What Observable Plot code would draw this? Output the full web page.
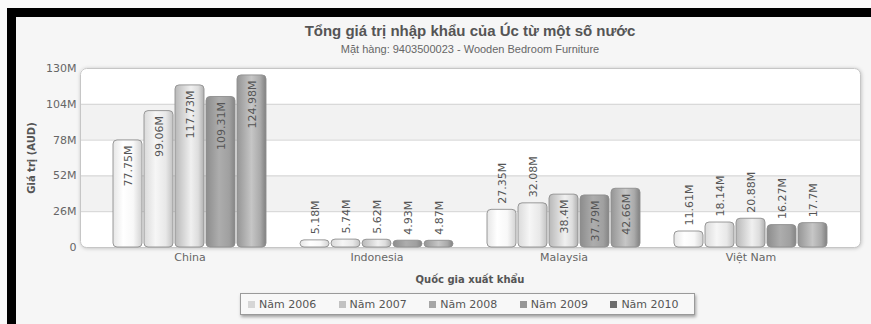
<!DOCTYPE html>
<html>
<head>
<meta charset="utf-8">
<script src="https://cdn.jsdelivr.net/npm/d3@7"></script>
<script src="https://cdn.jsdelivr.net/npm/@observablehq/plot@0.6"></script>
<style>
  html, body { margin: 0; padding: 0; background: #fbfbfb; overflow: hidden; }
  #chart { position: relative; width: 871px; height: 324px; background: #f6f6f6; font-family: "DejaVu Sans", Verdana, sans-serif; color: #555; }
  .layer { position: absolute; left: 0; top: 0; }
  .abs { position: absolute; }
  #topStrip { left: 0; top: 0; width: 871px; height: 8px; background: #fafafa; }
  #leftStrip { left: 0; top: 0; width: 7px; height: 324px; background: #fafafa; }
  #topBar { left: 7px; top: 8px; right: 0; height: 9px; background: #000; }
  #leftBar { left: 7px; top: 8px; width: 9px; bottom: 0; background: #000; }
  #title { left: 80px; width: 780px; top: 22px; text-align: center; font: bold 15px "Liberation Sans", Arial, sans-serif; color: #555; line-height: 18px; }
  #subtitle { left: 80px; width: 780px; top: 42px; text-align: center; font: 11px "Liberation Sans", Arial, sans-serif; color: #666; line-height: 14px; }
  #shadow { left: 80px; top: 68px; width: 780px; height: 179px; border-radius: 6px; box-shadow: 1px 1px 4px rgba(0,0,0,0.28); background: #fff; }
  #xtitle { left: 80px; width: 780px; top: 274px; text-align: center; font: bold 10px "DejaVu Sans", Verdana, sans-serif; color: #555; line-height: 12px; }
  #ytitle { left: 31px; top: 158px; transform: translate(-50%, -50%) rotate(-90deg); white-space: nowrap; font: bold 10px "DejaVu Sans", Verdana, sans-serif; color: #555; }
  #legend { left: 240px; top: 293px; width: 453px; height: 20px; border: 1px solid #9a9a9a; background: #f8f8f8; box-shadow: 1px 2px 3px rgba(0,0,0,0.35); display: flex; align-items: center; }
  .item { width: 94px; padding-left: 7px; box-sizing: border-box; display: flex; align-items: center; font-size: 11px; color: #555; white-space: nowrap; }
  .sw { width: 7px; height: 7px; margin-right: 4px; }
</style>
</head>
<body>
<svg width="0" height="0" style="position:absolute">
  <defs>
    <linearGradient id="g0" x1="0" x2="1" y1="0" y2="0">
      <stop offset="0" stop-color="#e6e6e6"/><stop offset="0.35" stop-color="#ffffff"/><stop offset="0.7" stop-color="#f8f8f8"/><stop offset="1" stop-color="#d2d2d2"/>
    </linearGradient>
    <linearGradient id="g1" x1="0" x2="1" y1="0" y2="0">
      <stop offset="0" stop-color="#dadada"/><stop offset="0.4" stop-color="#f6f6f6"/><stop offset="0.75" stop-color="#e8e8e8"/><stop offset="1" stop-color="#c2c2c2"/>
    </linearGradient>
    <linearGradient id="g2" x1="0" x2="1" y1="0" y2="0">
      <stop offset="0" stop-color="#b8b8b8"/><stop offset="0.55" stop-color="#f0f0f0"/><stop offset="0.8" stop-color="#dddddd"/><stop offset="1" stop-color="#b0b0b0"/>
    </linearGradient>
    <linearGradient id="g3" x1="0" x2="1" y1="0" y2="0">
      <stop offset="0" stop-color="#8c8c8c"/><stop offset="0.45" stop-color="#adadad"/><stop offset="0.8" stop-color="#a0a0a0"/><stop offset="1" stop-color="#858585"/>
    </linearGradient>
    <linearGradient id="g4" x1="0" x2="1" y1="0" y2="0">
      <stop offset="0" stop-color="#959595"/><stop offset="0.5" stop-color="#c6c6c6"/><stop offset="0.8" stop-color="#aaaaaa"/><stop offset="1" stop-color="#808080"/>
    </linearGradient>
  </defs>
</svg>
<div id="chart">
  <div class="abs" id="topStrip"></div>
  <div class="abs" id="leftStrip"></div>
  <div class="abs" id="topBar"></div>
  <div class="abs" id="leftBar"></div>
  <div class="abs" id="title">Tổng giá trị nhập khẩu của Úc từ một số nước</div>
  <div class="abs" id="subtitle">Mặt hàng: 9403500023 - Wooden Bedroom Furniture</div>
  <div class="abs" id="shadow"></div>
  <div class="layer" id="bgLayer"></div>
  <div class="layer" id="fgLayer"></div>
  <div class="abs" id="ytitle">Giá trị (AUD)</div>
  <div class="abs" id="xtitle">Quốc gia xuất khẩu</div>
  <div class="abs" id="legend"></div>
</div>
<script>
// ---- data (values in millions AUD) ----
const countries = ["China", "Indonesia", "Malaysia", "Việt Nam"];
const years = ["Năm 2006", "Năm 2007", "Năm 2008", "Năm 2009", "Năm 2010"];
const v2006 = [77.75, 5.18, 27.35, 11.61];
const v2007 = [99.06, 5.74, 32.08, 18.14];
const v2008 = [117.73, 5.62, 38.4, 20.88];
const v2009 = [109.31, 4.93, 37.79, 16.27];
const v2010 = [124.98, 4.87, 42.66, 17.7];
const yTicks = [0, 26, 52, 78, 104, 130];
const swatchColors = ["#d6d6d6", "#c2c2c2", "#a6a6a6", "#979797", "#6e6e6e"];

const series = [v2006, v2007, v2008, v2009, v2010];
const rows = [];
countries.forEach((c, ci) => {
  series.forEach((s, yi) => {
    rows.push({country: c, year: years[yi], yi, value: s[ci], label: s[ci] + "M"});
  });
});
// alternating shaded bands between ticks
const bandRows = [];
for (let i = 1; i < yTicks.length - 1; i += 2) bandRows.push({y1: yTicks[i], y2: yTicks[i + 1]});

const W = 871, H = 324;
const common = {
  width: W, height: H,
  marginTop: 68, marginBottom: 77, marginLeft: 80, marginRight: 11,
  style: {background: "transparent", fontFamily: "'DejaVu Sans', Verdana, sans-serif", fontSize: "11px", color: "#666", overflow: "visible"}
};

const bg = Plot.plot({
  ...common,
  y: {domain: [0, 130], ticks: yTicks, tickFormat: d => d === 0 ? "0" : d + "M", tickSize: 0, tickPadding: 4, label: null},
  marks: [
    Plot.frame({fill: "#ffffff", rx: 6}),
    Plot.rect(bandRows, {y1: "y1", y2: "y2", fill: "#f2f2f2"}),
    Plot.ruleY(yTicks.slice(1, -1), {stroke: "#d2d2d2"}),
    Plot.frame({stroke: "#c6c6c6", rx: 6})
  ]
});
document.getElementById("bgLayer").appendChild(bg);

const inside = d => d.value > 35;
const fg = Plot.plot({
  ...common,
  facet: {data: rows, x: "country"},
  fx: {domain: countries, paddingInner: 0.171, paddingOuter: 0.171, axis: "bottom", tickSize: 0, tickPadding: 6, label: null},
  x: {domain: years, paddingInner: 0.08, paddingOuter: 0, axis: null},
  y: {domain: [0, 130], axis: null},
  color: {type: "identity"},
  marks: [
    Plot.barY(rows, {x: "year", y: "value", fill: d => "url(#g" + d.yi + ")", stroke: "#8e8e8e", strokeWidth: 0.9, rx: 4}),
    Plot.text(rows, {filter: inside, x: "year", y: "value", text: "label", rotate: -90, textAnchor: "end", dy: 5, fill: "#555"}),
    Plot.text(rows, {filter: d => !inside(d), x: "year", y: "value", text: "label", rotate: -90, textAnchor: "start", dy: -6, fill: "#555"})
  ]
});
document.getElementById("fgLayer").appendChild(fg);

// legend
const legend = document.getElementById("legend");
years.forEach((y, i) => {
  const it = document.createElement("div");
  it.className = "item";
  const sw = document.createElement("span");
  sw.className = "sw";
  sw.style.background = swatchColors[i];
  const tx = document.createElement("span");
  tx.textContent = y;
  it.appendChild(sw); it.appendChild(tx);
  legend.appendChild(it);
});
</script>
</body>
</html>
